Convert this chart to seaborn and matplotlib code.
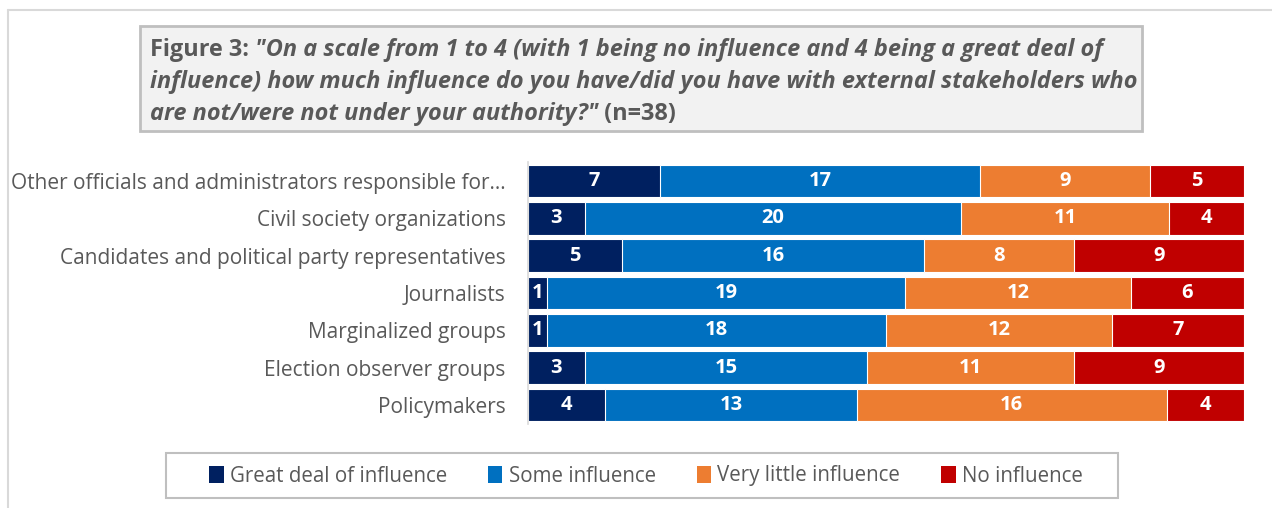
import matplotlib
matplotlib.use("Agg")
import matplotlib.pyplot as plt
import seaborn as sns
import numpy as np
from matplotlib.patches import Patch, Rectangle
from matplotlib.lines import Line2D
from matplotlib.text import Annotation

# Survey responses (n=38) per stakeholder group
categories = [
    "Other officials and administrators responsible for…",
    "Civil society organizations",
    "Candidates and political party representatives",
    "Journalists",
    "Marginalized groups",
    "Election observer groups",
    "Policymakers",
]
great_deal = [7, 3, 5, 1, 1, 3, 4]
some = [17, 20, 16, 19, 18, 15, 13]
very_little = [9, 11, 8, 12, 12, 11, 16]
no_influence = [5, 4, 9, 6, 7, 9, 4]
series_names = ["Great deal of influence", "Some influence",
                "Very little influence", "No influence"]
colors = ["#002060", "#0070C0", "#ED7D31", "#C00000"]

sns.set_theme(style="white")
plt.rcParams["font.family"] = ["Open Sans", "DejaVu Sans"]
grey = "#595959"

W, H = 1272, 508
fig = plt.figure(figsize=(W / 100, H / 100), dpi=100)

def fx(px):
    return px / W

def fy(py):
    return 1 - py / H

ax = fig.add_axes([fx(528), fy(423.7), fx(1244 - 528), (423.7 - 162.3) / H])

# 100% stacked: each row is scaled to its own total
values = np.array([great_deal, some, very_little, no_influence], dtype=float)
shares = values / values.sum(axis=0) * 100
cum = shares.cumsum(axis=0)

# draw cumulative totals from the widest down so segments stack
for i in range(len(series_names) - 1, -1, -1):
    sns.barplot(x=cum[i], y=categories, color=colors[i], orient="y",
                width=0.88, saturation=1, edgecolor="white", linewidth=0.8,
                ax=ax)

for i in range(len(series_names)):
    for j in range(len(categories)):
        ax.text(cum[i, j] - shares[i, j] / 2, j, f"{values[i, j]:.0f}",
                ha="center", va="center", color="white",
                fontweight="bold", fontsize=14.5)

ax.set_xlim(0, 100)
ax.set_xlabel("")
ax.set_ylabel("")
ax.set_xticks([])
for s in ["top", "right", "bottom"]:
    ax.spines[s].set_visible(False)
ax.spines["left"].set_color("#D9D9D9")
ax.spines["left"].set_linewidth(1.2)
ax.tick_params(axis="y", length=0, pad=16, labelsize=15, labelcolor=grey)

# outer frame (top and left edges)
fig.add_artist(Line2D([fx(8), fx(1272)], [fy(10), fy(10)], color="#D9D9D9", lw=1.5))
fig.add_artist(Line2D([fx(8), fx(8)], [fy(10), fy(508)], color="#D9D9D9", lw=1.5))

# title box
fig.add_artist(Rectangle((fx(140), fy(131)), fx(1142 - 140), (131 - 26) / H,
                         facecolor="#F2F2F2", edgecolor="#BFBFBF", lw=2))

title_fs = 16.9
line_y = [fy(62), fy(94), fy(126)]
bold = dict(color=grey, fontsize=title_fs, fontweight="bold")
bold_it = dict(bold, fontstyle="italic")

def follow(prev, txt, style):
    ann = Annotation(txt, xy=(1, 0), xycoords=prev, va="bottom", ha="left",
                     annotation_clip=False, **style)
    fig.add_artist(ann)
    return ann

t1 = fig.text(fx(150), line_y[0], "Figure 3:", va="bottom", **bold)
follow(t1, " \"On a scale from 1 to 4 (with 1 being no influence and 4 being a great deal of", bold_it)
fig.text(fx(150), line_y[1],
         "influence) how much influence do you have/did you have with external stakeholders who",
         va="bottom", **bold_it)
t3 = fig.text(fx(150), line_y[2], "are not/were not under your authority?\"",
              va="bottom", **bold_it)
follow(t3, " (n=38)", bold)

# legend box and entries
fig.add_artist(Rectangle((fx(166), fy(498)), fx(1118 - 166), (498 - 453) / H,
                         facecolor="white", edgecolor="#BFBFBF", lw=1.5))
handles = [Patch(facecolor=c, edgecolor="none") for c in colors]
leg = fig.legend(handles, series_names, loc="center",
                 bbox_to_anchor=(fx(646), fy(476)), ncol=4, frameon=False,
                 fontsize=14.8, labelcolor=grey, handlelength=0.7,
                 handleheight=0.9, handletextpad=0.3, columnspacing=2.0)
leg.set_zorder(5)

fig.savefig("out.png", dpi=100, facecolor="white")
